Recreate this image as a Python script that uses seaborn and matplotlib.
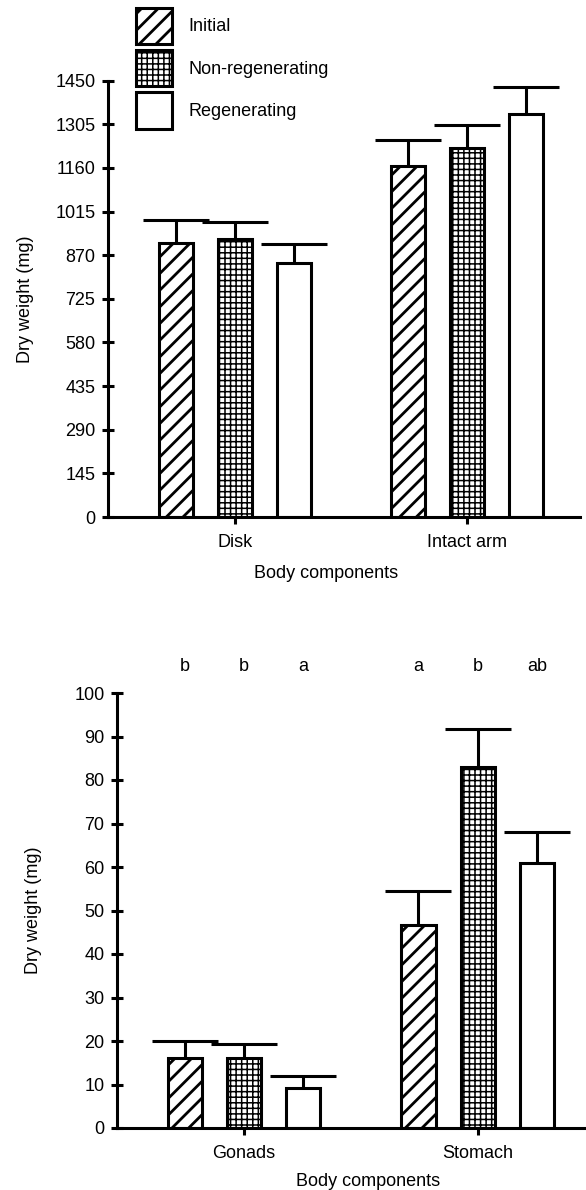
import numpy as np
import pandas as pd
import matplotlib
matplotlib.use("Agg")
import matplotlib.pyplot as plt
from matplotlib.patches import Patch
import seaborn as sns

# ---------------- data ----------------
groups = ["Initial", "Non-regenerating", "Regenerating"]

top_categories = ["Disk", "Intact arm"]
top_initial = [911, 1166]
top_nonregen = [924, 1227]
top_regen = [845, 1340]
top_err_initial = [75, 88]
top_err_nonregen = [57, 76]
top_err_regen = [63, 90]
top_yticks = [0, 145, 290, 435, 580, 725, 870, 1015, 1160, 1305, 1450]

bot_categories = ["Gonads", "Stomach"]
bot_initial = [16.0, 46.6]
bot_nonregen = [16.0, 83.0]
bot_regen = [9.2, 60.9]
bot_err_initial = [4.0, 7.9]
bot_err_nonregen = [3.3, 8.8]
bot_err_regen = [2.8, 7.2]
bot_yticks = [0, 10, 20, 30, 40, 50, 60, 70, 80, 90, 100]
bot_letters = [["b", "a"], ["b", "b"], ["a", "ab"]]  # per group, per category

hatches = ["//", "+++", ""]
hatch_lws = [2.0, 1.1, 1.0]

# ---------------- style ----------------
sns.set_style("ticks")
plt.rcParams["font.family"] = ["Liberation Sans", "DejaVu Sans"]
plt.rcParams["hatch.linewidth"] = 1.6
plt.rcParams["hatch.color"] = "black"
plt.rcParams["text.color"] = "black"
plt.rcParams["axes.labelcolor"] = "black"
plt.rcParams["xtick.color"] = "black"
plt.rcParams["ytick.color"] = "black"
plt.rcParams["axes.edgecolor"] = "black"

LW = 2.2
FS = 13


def set_hlw(p, lw):
    if hasattr(p, "set_hatch_linewidth"):
        try:
            p.set_hatch_linewidth(lw)
        except Exception:
            pass


def long_df(cats, vals):
    rows = []
    for g, v in zip(groups, vals):
        for c, x in zip(cats, v):
            rows.append({"component": c, "group": g, "weight": x})
    return pd.DataFrame(rows)


def draw(ax, cats, vals, errs, yticks, ylim, xlim):
    df = long_df(cats, vals)
    sns.barplot(data=df, x="component", y="weight", hue="group",
                order=cats, hue_order=groups, palette=["white"] * 3,
                edgecolor="black", linewidth=LW, width=0.76, gap=0.42,
                errorbar=None, legend=False, ax=ax)
    for cont, h, hl, e in zip(ax.containers, hatches, hatch_lws, errs):
        xs, ys = [], []
        for bar in cont:
            bar.set_hatch(h)
            set_hlw(bar, hl)
            xs.append(bar.get_x() + bar.get_width() / 2)
            ys.append(bar.get_height())
        _, caps, _ = ax.errorbar(xs, ys, yerr=[np.zeros(len(e)), e],
                                 fmt="none", ecolor="black", elinewidth=LW,
                                 capsize=24, capthick=LW, zorder=1)
        for cap in caps:
            if np.allclose(np.asarray(cap.get_ydata(), float), ys):
                cap.set_visible(False)
    ax.set_ylim(*ylim)
    ax.set_xlim(*xlim)
    ax.set_yticks(yticks)
    ax.set_yticklabels([str(t) for t in yticks])
    for s in ["top", "right"]:
        ax.spines[s].set_visible(False)
    for s in ["left", "bottom"]:
        ax.spines[s].set_linewidth(LW)
    ax.tick_params(axis="y", direction="inout", length=8, width=LW,
                   pad=5, labelsize=FS)
    ax.tick_params(axis="x", direction="out", length=5, width=LW,
                   pad=7, labelsize=FS)
    ax.set_xlabel("Body components", fontsize=FS)
    ax.set_ylabel("Dry weight (mg)", fontsize=FS)


fig = plt.figure(figsize=(5.86, 11.9), dpi=100)
W, H = 586, 1190
ax1 = fig.add_axes([108 / W, 1 - 517 / H, 472 / W, (517 - 80.7) / H])
ax2 = fig.add_axes([117 / W, 1 - 1128 / H, 468 / W, (1128 - 693) / H])

draw(ax1, top_categories, [top_initial, top_nonregen, top_regen],
     [top_err_initial, top_err_nonregen, top_err_regen],
     top_yticks, (0, 1450), (-0.545, 1.485))
draw(ax2, bot_categories, [bot_initial, bot_nonregen, bot_regen],
     [bot_err_initial, bot_err_nonregen, bot_err_regen],
     bot_yticks, (0, 100), (-0.543, 1.459))

ax1.xaxis.set_label_coords(0.462, -48 / 436)
ax2.xaxis.set_label_coords(0.536, -45 / 435)
ax1.yaxis.set_label_coords(-0.157, 0.5)
ax2.yaxis.set_label_coords(-0.160, 0.5)

# significance letters above bottom panel
for cont, letters in zip(ax2.containers, bot_letters):
    for bar, lab in zip(cont, letters):
        ax2.text(bar.get_x() + bar.get_width() / 2, 1.06, lab,
                 transform=ax2.get_xaxis_transform(), ha="center",
                 va="center", fontsize=FS)

handles = []
for h, hl in zip(hatches, hatch_lws):
    p = Patch(facecolor="white", edgecolor="black", hatch=h, linewidth=LW)
    set_hlw(p, hl)
    handles.append(p)
leg = fig.legend(handles, groups, loc="upper left",
                 bbox_to_anchor=(136 / W, 1 - 8 / H), frameon=False,
                 handlelength=2.0, handleheight=2.7, labelspacing=0.34,
                 handletextpad=0.9, borderpad=0, borderaxespad=0,
                 fontsize=FS)
for lp, hl in zip(leg.get_patches(), hatch_lws):
    set_hlw(lp, hl)

fig.savefig("out.png", dpi=100)
